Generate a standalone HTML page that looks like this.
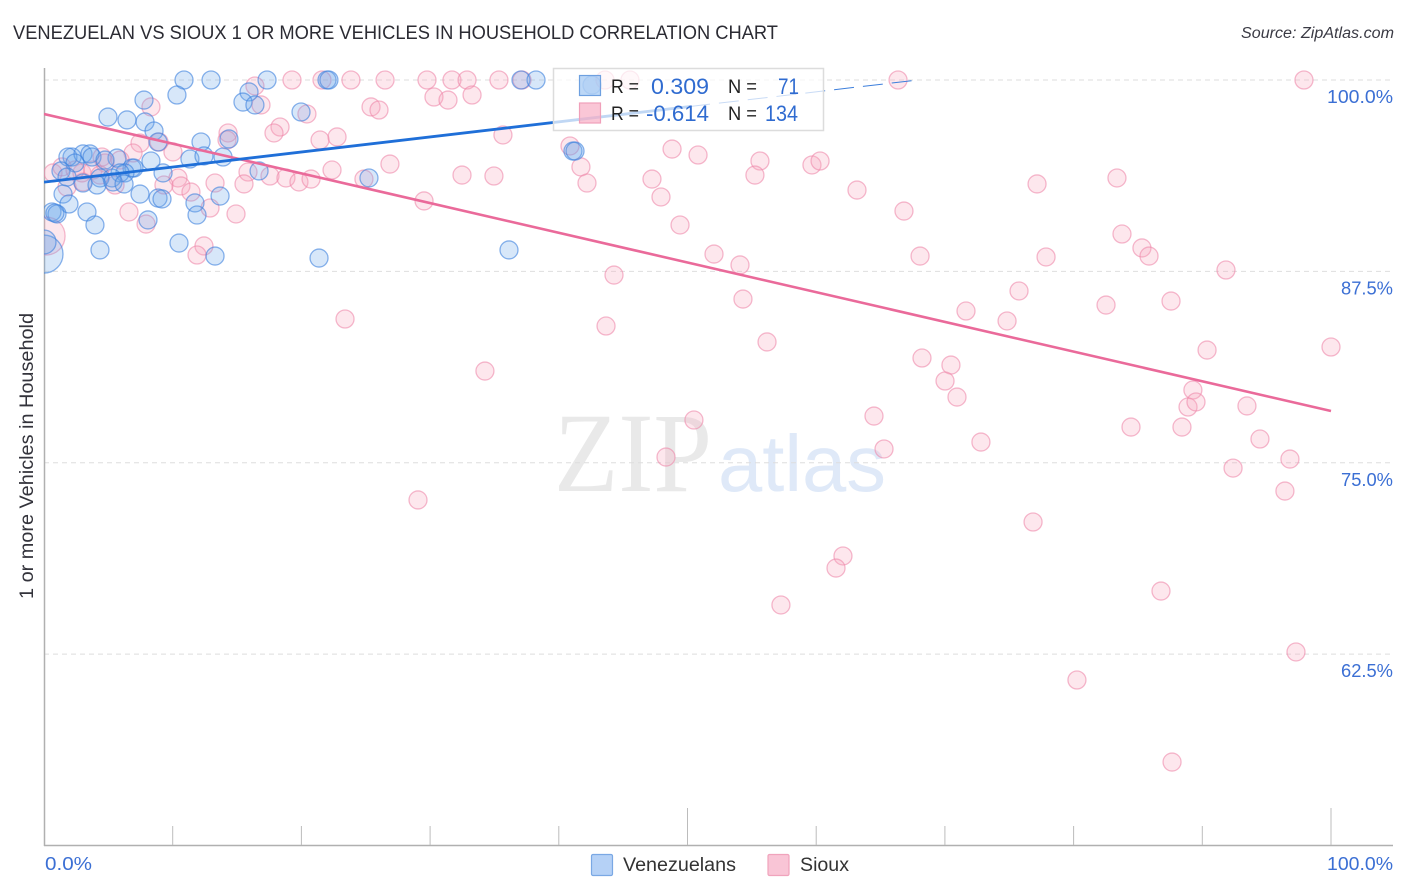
<!DOCTYPE html>
<html lang="en">
<head>
<meta charset="utf-8">
<title>Venezuelan vs Sioux 1 or More Vehicles in Household Correlation Chart</title>
<style>
html,body{margin:0;padding:0;background:#fff;width:1406px;height:892px;overflow:hidden}
svg{display:block;font-family:"Liberation Sans",sans-serif}
#sioux-points,#venezuelan-points{filter:blur(0.3px)}
</style>
</head>
<body>
<svg id="chart" width="1406" height="892" viewBox="0 0 1406 892">
  <defs><clipPath id="plot-clip"><rect x="44" y="60" width="1349" height="785"/></clipPath></defs>
  <text x="13" y="39" font-size="19.5" fill="#2b2b33" textLength="765" lengthAdjust="spacingAndGlyphs">VENEZUELAN VS SIOUX 1 OR MORE VEHICLES IN HOUSEHOLD CORRELATION CHART</text>
  <text x="1394" y="38" font-size="15.5" font-style="italic" fill="#3a3a44" text-anchor="end" textLength="153" lengthAdjust="spacingAndGlyphs">Source: ZipAtlas.com</text>
  <g>
    <text x="554" y="491" font-family="'Liberation Serif',serif" font-size="113" fill="#e9e9e9" textLength="158" lengthAdjust="spacingAndGlyphs">ZIP</text>
    <text x="718" y="491" font-size="80" fill="#dfe9f8" textLength="168" lengthAdjust="spacingAndGlyphs">atlas</text>
  </g>
  <g id="grid"></g>
  <g id="axes"></g>
  <g clip-path="url(#plot-clip)">
    <g id="sioux-points"></g>
    <g id="venezuelan-points"></g>
    <g id="trends"></g>
  </g>
  <text transform="translate(33,456) rotate(-90)" font-size="19" fill="#33333b" text-anchor="middle" textLength="286" lengthAdjust="spacingAndGlyphs">1 or more Vehicles in Household</text>
  <g>
    <rect x="553.5" y="68.5" width="270" height="62" fill="#fff" fill-opacity="0.72" stroke="#dcdcdc" stroke-width="1.5"/>
    <rect x="579.5" y="75.5" width="21" height="20" fill="#6aa6ea" fill-opacity="0.45" stroke="#6ea0e0" stroke-width="1.2"/>
    <rect x="579.5" y="103" width="21" height="20" fill="#f8a8c0" fill-opacity="0.65" stroke="#f0a0ba" stroke-width="1.2"/>
    <text x="611" y="93" font-size="19.5" fill="#222" textLength="28" lengthAdjust="spacingAndGlyphs">R =</text>
    <text x="651" y="94" font-size="22" fill="#2f6bd0" textLength="58" lengthAdjust="spacingAndGlyphs">0.309</text>
    <text x="728" y="93" font-size="19.5" fill="#222" textLength="29" lengthAdjust="spacingAndGlyphs">N =</text>
    <text x="778" y="94" font-size="22" fill="#2f6bd0" textLength="21" lengthAdjust="spacingAndGlyphs">71</text>
    <text x="611" y="120" font-size="19.5" fill="#222" textLength="28" lengthAdjust="spacingAndGlyphs">R =</text>
    <text x="646" y="121" font-size="22" fill="#2f6bd0" textLength="63" lengthAdjust="spacingAndGlyphs">-0.614</text>
    <text x="728" y="120" font-size="19.5" fill="#222" textLength="29" lengthAdjust="spacingAndGlyphs">N =</text>
    <text x="765" y="121" font-size="22" fill="#2f6bd0" textLength="33" lengthAdjust="spacingAndGlyphs">134</text>
  </g>
  <g>
    <rect x="591.5" y="854.5" width="21" height="21" rx="1.5" fill="#b5d1f6" stroke="#7aa8e4" stroke-width="1.2"/>
    <text x="623" y="871" font-size="19" fill="#333" textLength="113" lengthAdjust="spacingAndGlyphs">Venezuelans</text>
    <rect x="768" y="854.5" width="21" height="21" rx="1.5" fill="#f9c5d6" stroke="#f0a3bc" stroke-width="1.2"/>
    <text x="800" y="871" font-size="19" fill="#333" textLength="49" lengthAdjust="spacingAndGlyphs">Sioux</text>
  </g>
</svg>
<script>
const venezuelanShare = [10.88,12.98,17.33,21.99,22.14,37.06,38.23,10.33,7.77,15.93,15.46,16.39,19.97,4.97,6.45,7.85,8.55,8.86,12.20,14.37,2.18,1.86,3.03,3.57,3.73,5.67,4.74,2.41,1.32,8.31,11.34,12.43,13.91,16.71,9.25,6.84,6.99,6.29,5.91,5.28,4.35,1.79,3.03,4.12,5.36,6.22,1.48,1.94,7.46,8.86,9.17,13.68,11.73,11.89,8.08,3.34,3.96,0.62,1.01,0.85,4.35,10.49,13.29,21.37,36.13,25.25,41.10,41.26,42.58,0,0];
const venezuelanVehicles = [100,100,100,100,100,100,100,99.02,98.69,99.22,98.56,98.37,97.91,97.58,97.39,97.26,96.67,95.95,95.95,96.15,94.97,94.97,95.17,95.17,94.97,94.90,94.77,94.58,94.06,94.71,94.84,95.04,94.97,94.06,93.93,94.25,94.25,93.93,93.93,93.60,93.60,93.66,93.27,93.14,93.34,93.21,92.55,91.90,92.55,92.29,92.23,92.42,91.97,91.18,90.86,91.38,90.53,91.38,91.25,91.31,88.90,89.35,88.50,88.37,88.90,93.60,95.36,95.36,99.67,88.63,89.42];
const venezuelanLargeSamples = {69: 4.46, 70: 1.78};
const siouxShare = [0.16,16.39,19.27,21.60,23.85,26.50,29.76,31.70,32.87,35.35,37.14,30.30,31.39,33.26,16.86,20.43,25.41,26.03,14.30,14.22,18.34,17.87,21.45,22.77,35.66,15.85,15.54,17.56,18.80,19.81,20.75,22.38,24.86,26.88,32.48,34.96,29.53,14.92,40.87,41.72,42.19,48.80,50.82,47.24,47.94,49.42,52.06,54.08,54.31,55.63,55.24,59.67,60.30,63.17,66.82,77.16,83.37,83.76,85.31,85.86,68.07,77.86,91.84,75.76,71.64,74.83,82.52,87.57,90.37,100,56.18,68.22,70.47,70.01,70.94,64.49,65.27,72.80,89.27,88.89,89.51,88.42,84.46,93.47,94.48,92.39,96.81,96.42,97.28,76.85,62.08,61.54,57.26,86.79,80.26,87.65,29.06,50.50,48.33,34.26,43.67,44.29,23.39,43.59,45.53,66.36,97.90,7.46,6.92,8.94,10.02,8.31,10.41,10.64,9.32,11.42,13.29,12.90,6.60,7.93,12.43,11.89,0.70,1.40,1.79,4.51,5.52,3.03,2.95,3.81,4.74,2.41,5.91,4.35];
const siouxVehicles = [89.81,99.61,100,100,100,100,100,100,100,100,100,98.89,98.69,99.02,98.37,97.78,98.24,98.04,96.54,96.08,96.93,96.54,96.08,96.28,96.41,93.99,93.21,93.73,93.60,93.34,93.53,94.12,93.53,94.51,93.79,93.73,92.10,91.25,95.69,94.32,93.27,95.49,95.10,93.53,92.36,90.53,88.63,87.92,85.69,94.71,93.79,94.45,94.71,92.81,91.44,93.21,93.60,89.94,89.03,88.50,88.50,88.44,87.59,86.22,84.91,84.26,85.30,85.56,82.36,82.56,82.89,81.84,81.38,80.34,79.29,78.05,75.90,76.35,79.75,78.64,78.97,77.33,77.33,78.71,76.55,74.65,75.24,73.15,62.64,71.13,68.91,68.12,65.71,66.62,60.81,55.45,72.57,77.79,75.37,80.99,83.93,87.26,84.39,100,100,100,100,95.88,95.23,95.95,95.30,98.24,93.60,93.08,93.14,92.68,93.27,91.64,91.38,90.59,89.16,88.57,93.93,94.32,93.01,94.97,93.14,93.34,93.93,94.12,94.58,94.12,94.77,93.79];
const siouxLargeSamples = {0: 4.46};
const venezuelanTrendX = [0, 50.2, 67.9];
const venezuelanTrendY = [93.33, 98.27, 100];
const siouxTrendX = [0, 100];
const siouxTrendY = [97.78, 78.38];
const yTickValues = [100, 87.5, 75, 62.5];
const yTickLabels = ["100.0%", "87.5%", "75.0%", "62.5%"];
const xTickValues = [10, 20, 30, 40, 50, 60, 70, 80, 90, 100];
const xMajorTicks = [50, 100];
const xEndLabels = ["0.0%", "100.0%"];

const NS = "http://www.w3.org/2000/svg";
const xScale = v => 44 + v * 12.87;
const yScale = v => 80 + (100 - v) * 15.31;
const radius = w => 9 * Math.sqrt(w);
const labelWidth = s => s.length >= 6 ? 66 : (s.length === 5 ? 52 : 47);
function make(parent, tag, props, text) {
  const el = document.createElementNS(NS, tag);
  for (const k in props) el.setAttribute(k, props[k]);
  if (text !== undefined) el.textContent = text;
  parent.appendChild(el);
  return el;
}
const grid = document.getElementById("grid");
const axes = document.getElementById("axes");

yTickValues.forEach((v, i) => {
  const line = make(grid, "line", {x1: 44, x2: 1393, y1: yScale(v), y2: yScale(v), stroke: "#dedede", "stroke-width": 1, "stroke-dasharray": "5 4"});
  
  
  const label = make(axes, "text", {x: 1393, y: yScale(v) + 23, "font-size": 18.5, fill: "#3b6fd4", "text-anchor": "end", textLength: labelWidth(yTickLabels[i]), lengthAdjust: "spacingAndGlyphs"}, yTickLabels[i]);
  
  
});

const yAxisLine = make(axes, "line", {x1: 44.5, x2: 44.5, y1: 68, y2: 846, stroke: "#b0b0b0", "stroke-width": 1.5});


const xAxisLine = make(axes, "line", {x1: 44, x2: 1393, y1: 845.5, y2: 845.5, stroke: "#b0b0b0", "stroke-width": 1.5});



xTickValues.forEach(v => {
  const top = xMajorTicks.includes(v) ? 808 : 826;
  const tick = make(axes, "line", {x1: xScale(v), x2: xScale(v), y1: top, y2: 845, stroke: "#bcbcbc", "stroke-width": 1});
  
  
});

const xLabelLeft = make(axes, "text", {x: 45, y: 870, "font-size": 18.5, fill: "#3b6fd4", textLength: labelWidth(xEndLabels[0]), lengthAdjust: "spacingAndGlyphs"}, xEndLabels[0]);


const xLabelRight = make(axes, "text", {x: 1393, y: 870, "font-size": 18.5, fill: "#3b6fd4", "text-anchor": "end", textLength: labelWidth(xEndLabels[1]), lengthAdjust: "spacingAndGlyphs"}, xEndLabels[1]);



const siouxGroup = document.getElementById("sioux-points");
siouxShare.forEach((x, i) => {
  const dot = make(siouxGroup, "circle", {cx: xScale(x), cy: yScale(siouxVehicles[i]), r: radius(siouxLargeSamples[i] || 1), fill: "rgba(247,165,190,0.27)", stroke: "rgba(238,135,168,0.58)", "stroke-width": 1.3});
  
  
});
const venezuelanGroup = document.getElementById("venezuelan-points");
venezuelanShare.forEach((x, i) => {
  const dot = make(venezuelanGroup, "circle", {cx: xScale(x), cy: yScale(venezuelanVehicles[i]), r: radius(venezuelanLargeSamples[i] || 1), fill: "rgba(106,166,234,0.27)", stroke: "rgba(60,128,222,0.6)", "stroke-width": 1.3});
  
  
});

const trends = document.getElementById("trends");
const siouxTrend = make(trends, "line", {x1: xScale(siouxTrendX[0]), y1: yScale(siouxTrendY[0]), x2: xScale(siouxTrendX[1]), y2: yScale(siouxTrendY[1]), stroke: "#ea6a9a", "stroke-width": 2.6});


const venezuelanTrend = make(trends, "line", {x1: xScale(venezuelanTrendX[0]), y1: yScale(venezuelanTrendY[0]), x2: xScale(venezuelanTrendX[1]), y2: yScale(venezuelanTrendY[1]), stroke: "#1f6fd8", "stroke-width": 2.8});


const venezuelanProjection = make(trends, "line", {x1: xScale(venezuelanTrendX[1]), y1: yScale(venezuelanTrendY[1]), x2: xScale(venezuelanTrendX[2]), y2: yScale(venezuelanTrendY[2]), stroke: "#3d7fdc", "stroke-width": 1, "stroke-dasharray": "20 9"});


</script>
</body>
</html>
